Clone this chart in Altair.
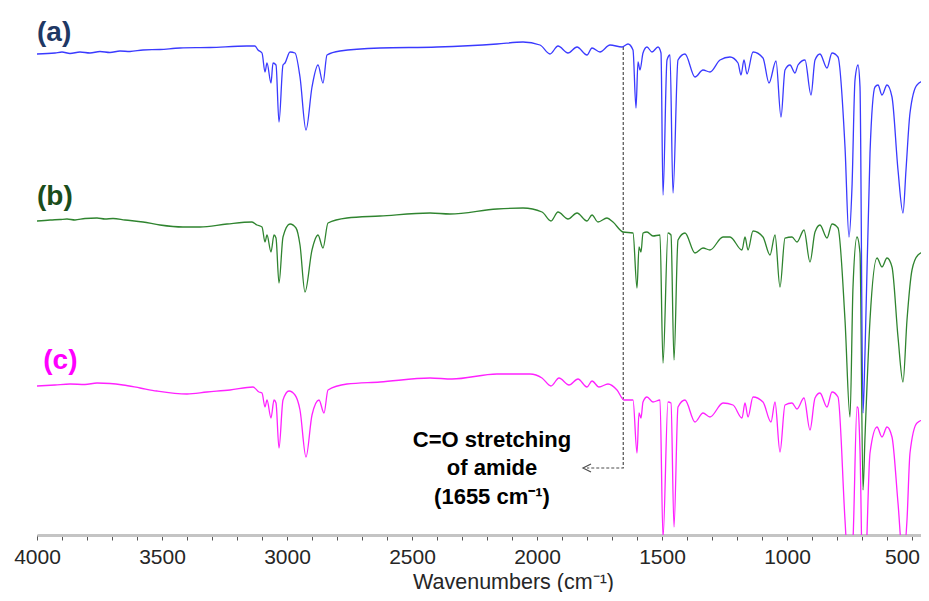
import altair as alt
import pandas as pd

# ---- spectrum (a) ----
wn_a = [4000,3928,3900,3868,3828,3788,3748,3708,3668,3628,3576,3508,3428,3308,3160,3128,3116,3100,3088,3080,
        3064,3056,3044,3032,3016,3008,2988,2968,2948,2924,2900,2876,2856,2840,2788,2628,2400,2160,2056,1988,
        1948,1916,1876,1840,1800,1780,1748,1708,1660,1636,1616,1604,1596,1588,1576,1560,1540,1516,1504,1496,
        1480,1468,1456,1436,1408,1368,1336,1308,1268,1228,1196,1184,1172,1160,1136,1096,1072,1044,1024,1008,
        988,968,956,928,904,888,868,840,820,796,768,752,740,728,716,708,696,688,668,648,
        636,620,600,580,556,536,524,508,480,436]
t_a = [95.8,96.0,96.2,95.9,96.2,96.0,96.3,96.1,96.4,96.3,96.6,96.7,97.0,97.1,97.4,97.4,96.6,96.0,92.2,94.0,
       90.0,94.0,93.6,82.2,93.6,94.0,96.2,96.0,91.2,80.6,89.2,93.6,90.0,95.6,96.4,97.0,97.2,97.8,98.2,97.6,
       95.8,97.4,96.0,97.2,95.6,97.0,96.2,97.6,97.2,97.8,96.6,85.0,94.2,92.6,96.0,97.2,96.2,97.2,96.0,67.6,
       94.6,95.6,68.0,94.6,95.8,91.2,92.6,92.2,94.6,95.2,94.0,91.6,94.6,91.8,96.2,95.0,90.0,94.4,83.2,92.6,
       93.6,92.0,93.6,94.6,87.6,94.6,95.8,93.0,96.0,95.2,77.2,59.2,69.2,90.6,93.6,89.2,24.0,36.0,76.0,89.2,
       89.6,87.6,89.6,87.2,72.6,64.0,72.6,84.0,89.6,90.8]

# ---- spectrum (b) ----
wn_b = [4000,3948,3908,3880,3848,3808,3760,3728,3696,3648,3576,3508,3416,3348,3240,3140,3120,3100,3088,3080,
        3064,3052,3044,3032,3016,2988,2964,2948,2928,2900,2876,2856,2836,2760,2628,2428,2348,2160,2056,1980,
        1944,1916,1876,1840,1800,1780,1756,1720,1696,1656,1616,1600,1592,1584,1576,1560,1536,1508,1496,1476,
        1464,1452,1436,1408,1368,1336,1308,1256,1228,1180,1168,1156,1136,1096,1068,1048,1028,1008,980,960,
        932,908,888,868,840,820,796,768,748,736,720,708,696,688,668,640,620,600,580,556,
        536,520,500,476,436]
t_b = [62.4,62.6,62.7,62.8,62.6,62.9,63.0,62.8,62.9,62.6,62.2,61.6,61.2,61.2,61.8,62.2,61.6,61.2,58.2,59.6,
       56.2,59.6,59.0,50.0,59.2,61.8,61.0,57.6,48.2,56.6,59.6,57.0,62.0,63.0,63.4,64.0,63.8,64.8,65.0,64.2,
       62.4,64.2,62.8,64.0,62.4,63.6,62.2,63.0,62.2,60.2,60.0,49.0,57.2,56.2,60.0,60.2,59.4,59.6,34.0,60.0,
       59.6,34.6,58.6,60.0,56.0,57.0,56.6,59.2,59.2,56.6,59.2,56.6,60.4,59.2,55.6,59.6,49.2,59.0,59.2,58.2,
       60.6,54.2,60.2,61.6,59.0,61.8,61.0,42.6,23.2,49.2,59.2,56.0,8.6,19.2,42.6,55.0,53.2,55.0,53.2,39.2,
       30.2,42.6,52.6,55.6,56.6]

# ---- spectrum (c) ----
wn_c = [4000,3928,3868,3808,3760,3708,3656,3588,3520,3400,3320,3228,3136,3112,3100,3088,3080,3064,3052,3044,
        3032,3016,2992,2968,2948,2924,2900,2872,2852,2836,2760,2628,2428,2340,2160,2028,1980,1944,1912,1872,
        1836,1800,1780,1752,1716,1680,1652,1616,1600,1592,1584,1576,1560,1536,1508,1496,1476,1464,1452,1436,
        1408,1368,1336,1308,1256,1216,1180,1168,1156,1136,1096,1064,1048,1028,1008,980,960,932,908,888,
        868,840,820,796,768,752,736,720,716,708,696,684,668,640,620,600,580,556,536,520,
        508,480,436]
t_c = [29.4,29.6,29.8,29.7,30.0,29.9,29.6,29.0,28.4,27.8,28.2,28.6,29.2,28.2,28.0,25.2,26.6,23.0,26.6,26.0,
       17.0,26.6,28.4,27.6,24.6,15.2,23.6,26.6,24.0,28.6,29.8,30.2,31.0,30.8,31.8,31.8,31.0,29.4,31.0,29.6,
       30.8,29.2,30.4,29.2,29.8,28.6,26.6,26.6,16.0,24.0,23.0,26.2,27.2,26.2,26.6,-1.0,26.2,26.0,1.2,25.2,
       26.6,22.2,24.0,23.2,26.0,25.6,23.0,26.0,23.2,27.2,26.2,22.2,26.2,16.2,25.6,26.0,24.8,27.0,20.6,27.0,
       28.0,25.2,28.2,27.2,2.6,-9.4,-1.4,25.2,25.0,16.6,-13.4,-5.4,16.0,21.2,19.2,21.2,19.2,6.0,-5.4,2.6,
       16.0,22.0,23.0]

series_names = ["(a)", "(b)", "(c)"]
line_colors = ["#3a3aff", "#2f842f", "#ff22ff"]
label_colors = ["#1f3864", "#1b4d1b", "#ff00ff"]
label_wn = [4000, 4000, 3975]
label_t = [100.0, 67.2, 34.4]

annot_lines = ["C=O stretching", "of amide", "(1655 cm\u207b\u00b9)"]
annot_wn = [2180, 2180, 2180]
annot_t = [18.6, 13.0, 7.2]

guide_wn = [1655, 1655, 1800]
guide_t = [97.2, 13.0, 13.0]
arrow_wn = [1800]
arrow_t = [13.0]

tick_values = [4000,3900,3800,3700,3600,3500,3400,3300,3200,3100,3000,2900,2800,2700,2600,2500,2400,2300,
               2200,2100,2000,1900,1800,1700,1600,1500,1400,1300,1200,1100,1000,900,800,700,600,500]
x_domain = [4000, 464]
y_domain = [-0.4, 102.6]

frames = []
for name, w, t in zip(series_names, [wn_a, wn_b, wn_c], [t_a, t_b, t_c]):
    frames.append(pd.DataFrame({"wn": w, "t": t, "series": name}))
spec = pd.concat(frames, ignore_index=True)

labels_df = pd.DataFrame({"wn": label_wn, "t": label_t, "label": series_names, "color": label_colors})
annot_df = pd.DataFrame({"wn": annot_wn, "t": annot_t, "text": annot_lines})
guide_df = pd.DataFrame({"wn": guide_wn, "t": guide_t, "k": [0, 1, 2]})
arrow_df = pd.DataFrame({"wn": arrow_wn, "t": arrow_t})

SANS = "Liberation Sans, Arial"

x_enc = alt.X(
    "wn:Q",
    scale=alt.Scale(domain=x_domain, nice=False, zero=False),
    title="Wavenumbers (cm\u207b\u00b9)",
    axis=alt.Axis(
        values=tick_values,
        tickCount=60,
        format="d",
        labelExpr="datum.value % 500 === 0 ? datum.label : ''",
        grid=False,
        domainColor="#c4c4c4",
        domainWidth=3,
        tickColor="#555555",
        tickSize=5,
        tickWidth=1,
        labelFont=SANS,
        labelFontSize=21,
        labelColor="#262626",
        labelPadding=6,
        labelOffset={"condition": {"test": "datum.value === 500", "value": -10}, "value": 0},
        labelOverlap=False,
        labelFlush=False,
        titleFont=SANS,
        titleFontSize=21.5,
        titleFontWeight="normal",
        titleColor="#262626",
        titleX=476,
        titleY=53,
        titleAlign="center",
        titleBaseline="alphabetic",
    ),
)
y_enc = alt.Y("t:Q", scale=alt.Scale(domain=y_domain, nice=False, zero=False), axis=None)

guide = alt.Chart(guide_df).mark_line(strokeDash=[3, 2], color="#4d4d4d", strokeWidth=1.2).encode(
    x=x_enc, y=y_enc, order="k:Q"
)
arrow = alt.Chart(arrow_df).mark_point(
    shape="M1,-1L-1,0L1,1", filled=False, size=64, stroke="#4d4d4d", strokeWidth=1.2, opacity=1
).encode(x="wn:Q", y="t:Q")

line_layers = []
for name in ["(c)", "(b)", "(a)"]:
    line_layers.append(
        alt.Chart(spec).transform_filter(alt.datum.series == name).mark_line(
            strokeWidth=1.3, clip=True, interpolate="monotone"
        ).encode(
            x="wn:Q",
            y="t:Q",
            color=alt.Color("series:N", scale=alt.Scale(domain=series_names, range=line_colors), legend=None),
        )
    )

labels = alt.Chart(labels_df).mark_text(
    align="left", baseline="middle", fontWeight="bold", fontSize=28, font=SANS
).encode(x="wn:Q", y="t:Q", text="label:N", color=alt.Color("color:N", scale=None))

annot = alt.Chart(annot_df).mark_text(
    align="center", baseline="middle", fontWeight="bold", fontSize=22, color="#000000", font=SANS
).encode(x="wn:Q", y="t:Q", text="text:N")

chart = alt.layer(guide, arrow, *line_layers, labels, annot).properties(
    width=884,
    height=515,
    autosize=alt.AutoSizeParams(type="none"),
    padding={"left": 29, "top": 12, "right": 0, "bottom": 57},
).configure_view(stroke=None)

chart.save("out.html", embed_options={"renderer": "svg", "actions": False})
